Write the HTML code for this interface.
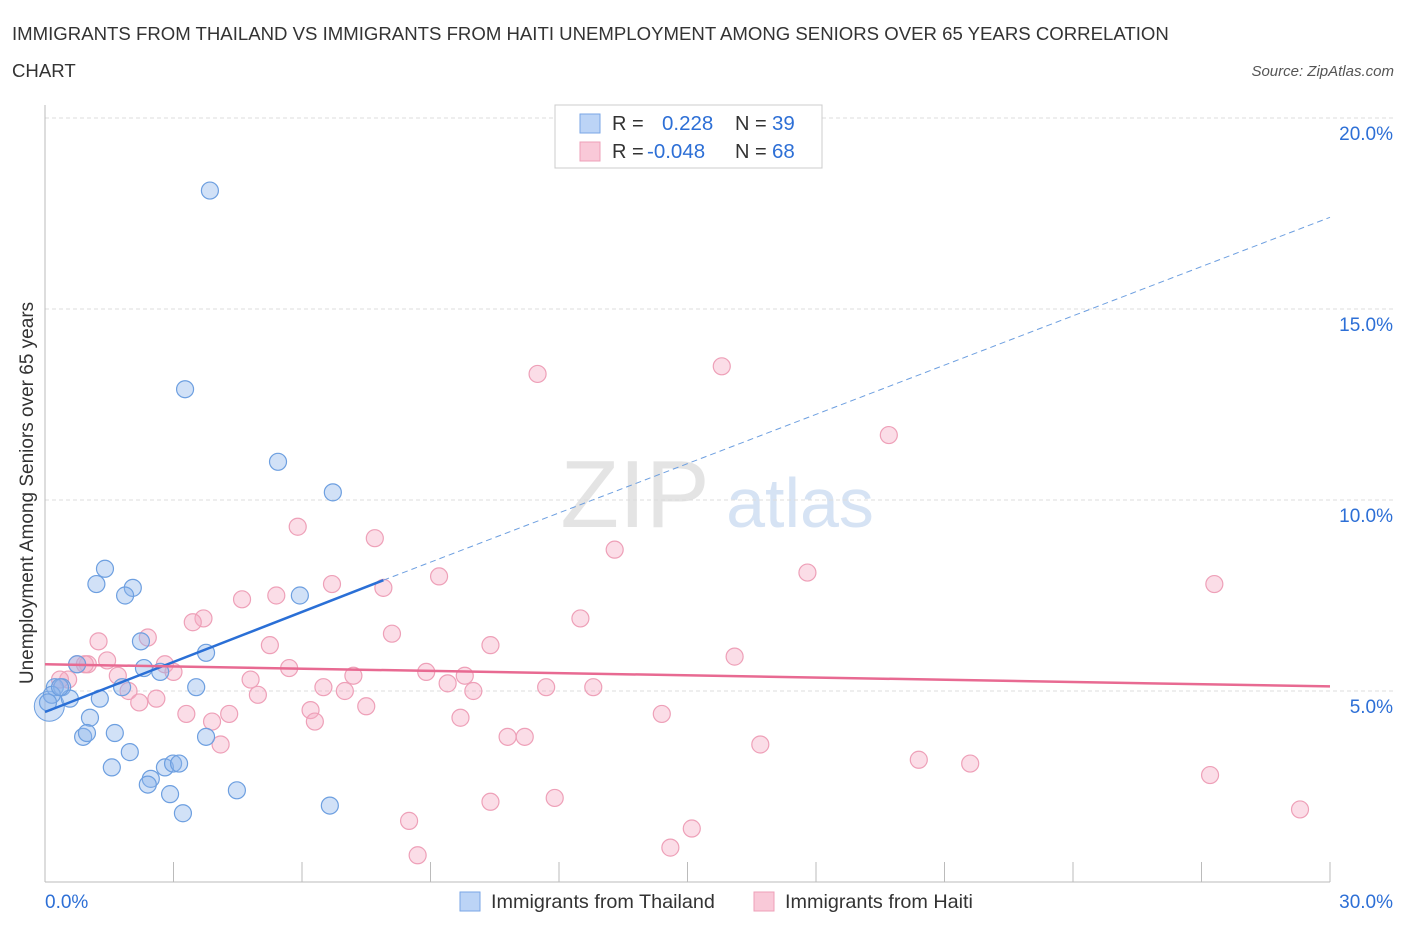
<!DOCTYPE html>
<html><head><meta charset="utf-8"><style>
body{margin:0;background:#fff;font-family:"Liberation Sans",sans-serif;}
svg text{font-family:"Liberation Sans",sans-serif;}
</style></head><body>
<svg id="c" width="1406" height="930">
<text x="12" y="40" font-size="18.6" fill="#333">IMMIGRANTS FROM THAILAND VS IMMIGRANTS FROM HAITI UNEMPLOYMENT AMONG SENIORS OVER 65 YEARS CORRELATION</text>
<text x="12" y="77" font-size="18.6" fill="#333">CHART</text>
<text x="1394" y="76" font-size="15" fill="#555" font-style="italic" text-anchor="end">Source: ZipAtlas.com</text>
<text x="635" y="527" font-size="96" fill="#e4e4e4" font-family="Liberation Serif" text-anchor="middle">ZIP</text>
<text x="800" y="527" font-size="70" fill="#d6e3f4" text-anchor="middle">atlas</text>
<text x="33" y="493" font-size="19" fill="#333" text-anchor="middle" transform="rotate(-90 33 493)">Unemployment Among Seniors over 65 years</text>
<g id="grid"></g><g id="marks"></g>
<g>
<rect x="555" y="105" width="267" height="63" fill="#fff" stroke="#ccc"/>
<rect x="580" y="114" width="20" height="19" fill="#bcd4f6" stroke="#7aa6e6"/>
<rect x="580" y="142" width="20" height="19" fill="#f9c9d8" stroke="#eea0b8"/>
<text x="612" y="130" font-size="20" fill="#333">R =</text><text x="662" y="130" font-size="20.5" fill="#2d6fd6">0.228</text>
<text x="735" y="130" font-size="20" fill="#333">N =</text><text x="772" y="130" font-size="20.5" fill="#2d6fd6">39</text>
<text x="612" y="158" font-size="20" fill="#333">R =</text><text x="647" y="158" font-size="20.5" fill="#2d6fd6">-0.048</text>
<text x="735" y="158" font-size="20" fill="#333">N =</text><text x="772" y="158" font-size="20.5" fill="#2d6fd6">68</text>
</g>
<g>
<rect x="460" y="892" width="20" height="19" fill="#bcd4f6" stroke="#7aa6e6"/>
<text x="491" y="908" font-size="19.8" fill="#333">Immigrants from Thailand</text>
<rect x="754" y="892" width="20" height="19" fill="#f9c9d8" stroke="#eea0b8"/>
<text x="785" y="908" font-size="19.8" fill="#333">Immigrants from Haiti</text>
</g>
</svg>
<script>
const xTicks=[0,30];
const yTicks=[5,10,15,20];
const thaiX=[3.85,3.27,5.44,6.72,1.4,1.2,2.05,1.87,5.95,2.24,3.76,0.75,2.31,2.69,3.53,1.8,0.23,0.4,0.58,1.28,1.05,1.63,0.89,0.98,1.98,3.76,1.56,2.47,2.8,2.99,3.13,2.4,2.92,4.48,3.22,6.65,0.16,0.07,0.35];
const thaiY=[18.1,12.9,11.0,10.2,8.2,7.8,7.7,7.5,7.5,6.3,6.0,5.7,5.6,5.5,5.1,5.1,5.1,5.1,4.8,4.8,4.3,3.9,3.8,3.9,3.4,3.8,3.0,2.7,3.0,3.1,3.1,2.55,2.3,2.4,1.8,2.0,4.9,4.7,5.1];
const haitiX=[11.5,15.8,19.7,5.9,7.7,13.3,17.8,27.3,9.2,6.7,7.9,4.6,5.4,3.7,3.45,2.4,1.25,12.5,10.4,8.1,5.25,1.45,1.0,0.75,2.8,3.0,16.1,5.7,8.9,9.8,7.2,4.8,0.54,1.7,6.5,9.4,7.0,10.0,11.7,12.8,1.95,4.97,2.6,2.2,6.2,7.5,6.3,3.3,4.3,3.9,9.7,14.4,4.1,10.8,11.2,16.7,20.4,21.6,27.2,10.4,11.9,29.3,8.5,15.1,14.6,8.7,0.35,0.93];
const haitiY=[13.3,13.5,11.7,9.3,9.0,8.7,8.1,7.8,8.0,7.8,7.7,7.4,7.5,6.9,6.8,6.4,6.3,6.9,6.2,6.5,6.2,5.8,5.7,5.7,5.7,5.5,5.9,5.6,5.5,5.4,5.4,5.3,5.3,5.4,5.1,5.2,5.0,5.0,5.1,5.1,5.0,4.9,4.8,4.7,4.5,4.6,4.2,4.4,4.4,4.2,4.3,4.4,3.6,3.8,3.8,3.6,3.2,3.1,2.8,2.1,2.2,1.9,1.6,1.4,0.9,0.7,5.3,5.7];
const NS="http://www.w3.org/2000/svg";
const X=v=>45+v/30*1285, Y=v=>882-v*38.2;
function mk(t,a,p){const e=document.createElementNS(NS,t);for(const k in a)e.setAttribute(k,a[k]);p.appendChild(e);return e;}
const g=document.getElementById('grid'), m=document.getElementById('marks');
yTicks.forEach(v=>{const l=mk('line',{x1:45,x2:1395,y1:Y(v),y2:Y(v),stroke:'#ddd','stroke-dasharray':'4 3'},g);


const t=mk('text',{x:1393,y:Y(v)+22,'font-size':19,fill:'#2d6fd6','text-anchor':'end'},g);t.textContent=v.toFixed(1)+'%';

});
mk('line',{x1:45,x2:45,y1:105,y2:882,stroke:'#bbb'},g);
mk('line',{x1:45,x2:1330,y1:882,y2:882,stroke:'#bbb'},g);
for(let i=1;i<=10;i++){mk('line',{x1:45+i*128.5,x2:45+i*128.5,y1:862,y2:882,stroke:'#bbb'},g);}
xTicks.forEach((v,i)=>{const t=mk('text',{x:i?1393:45,y:908,'font-size':19,fill:'#2d6fd6','text-anchor':i?'end':'start'},g);t.textContent=v.toFixed(1)+'%';

});
haitiX.forEach((v,i)=>{const c=mk('circle',{cx:X(v),cy:Y(haitiY[i]),r:8.5,fill:'rgba(246,170,195,0.4)',stroke:'#eea0b8','stroke-width':1.2},m);

});
const big=mk('circle',{cx:X(0.1),cy:Y(4.6),r:15,fill:'rgba(140,180,235,0.4)',stroke:'#6d9fe0'},m);
thaiX.forEach((v,i)=>{const c=mk('circle',{cx:X(v),cy:Y(thaiY[i]),r:8.5,fill:'rgba(140,180,235,0.4)',stroke:'#6d9fe0','stroke-width':1.2},m);

});
const bl=mk('line',{x1:X(0),y1:Y(4.45),x2:X(7.9),y2:Y(7.9),stroke:'#2a6fd6','stroke-width':2.5},m);


mk('line',{x1:X(7.9),y1:Y(7.9),x2:X(30),y2:Y(17.4),stroke:'#6d9fe0','stroke-width':1,'stroke-dasharray':'6 4'},m);
const pl=mk('line',{x1:X(0),y1:Y(5.7),x2:X(30),y2:Y(5.12),stroke:'#e86a92','stroke-width':2.5},m);


</script>
</body></html>
